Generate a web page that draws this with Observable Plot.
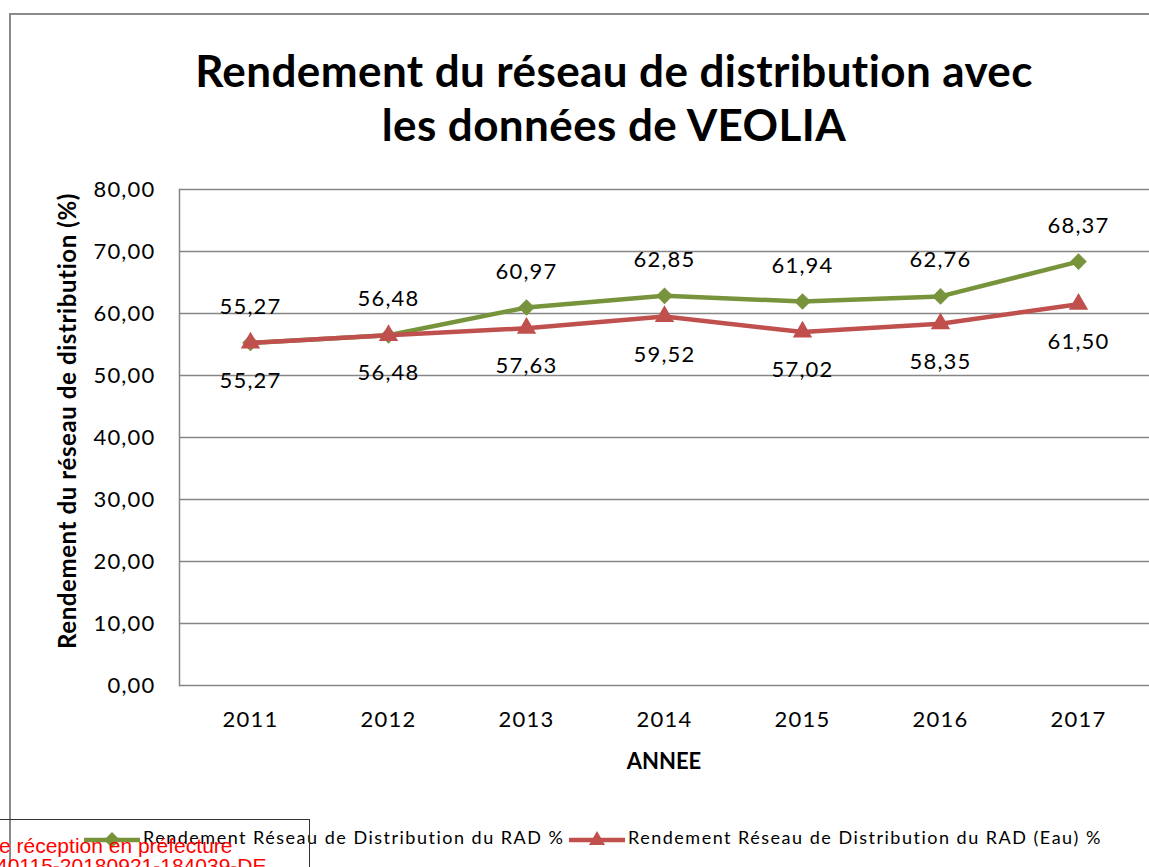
<!DOCTYPE html>
<html><head><meta charset="utf-8">
<script src="https://cdn.jsdelivr.net/npm/d3@7"></script>
<script src="https://cdn.jsdelivr.net/npm/@observablehq/plot@0.6"></script>
<style>
html,body{margin:0;padding:0;background:#fff;overflow:hidden}
#wrap{position:relative;width:1149px;height:867px;overflow:hidden;font-family:Lato,sans-serif;color:#000}
#wrap svg.plot{position:absolute;left:0;top:0}
.border{position:absolute;left:9px;top:13px;width:1200px;height:900px;border:2px solid #8a8a8a;box-sizing:border-box}
.title{position:absolute;left:0;width:1228px;top:43px;text-align:center;font-weight:bold;font-size:44px;line-height:54px;letter-spacing:0.4px}
.ylab{position:absolute;left:66px;top:421px;transform:translate(-50%,-50%) rotate(-90deg);white-space:nowrap;font-weight:bold;font-size:24px;letter-spacing:0.6px}
.xlab{position:absolute;left:664px;top:760px;transform:translate(-50%,-50%);font-weight:bold;font-size:22px}
.leg{position:absolute;top:826px;font-size:18px;white-space:nowrap;letter-spacing:1.5px;line-height:22px}
.stamp{position:absolute;left:-2px;top:819px;width:312px;height:60px;border:1.5px solid #333;box-sizing:border-box}
.stxt{position:absolute;left:0;font-family:"Liberation Sans",Arial,sans-serif;color:#ff0000;font-size:21px;white-space:nowrap;line-height:21px}
</style></head><body><div id="wrap"></div>
<script>
const years = ["2011","2012","2013","2014","2015","2016","2017"];
const rendementRAD = [55.27,56.48,60.97,62.85,61.94,62.76,68.37];
const rendementEau = [55.27,56.48,57.63,59.52,57.02,58.35,61.50];
const seriesNames = ["Rendement Réseau de Distribution du RAD %","Rendement Réseau de Distribution du RAD (Eau) %"];
const seriesColors = ["#77933C","#C0504D"];
const yTicks = [0,10,20,30,40,50,60,70,80];
const titleLines = ["Rendement du réseau de distribution avec","les données de VEOLIA"];
const yLabel = "Rendement du réseau de distribution (%)";
const xLabel = "ANNEE";

const fmt = v => v.toFixed(2).replace(".", ",");
const green = years.map((year,i)=>({year, value: rendementRAD[i]}));
const red = years.map((year,i)=>({year, value: rendementEau[i]}));

const chart = Plot.plot({
  width:1149, height:867,
  marginLeft:179, marginRight:0, marginTop:189, marginBottom:182,
  style:{fontFamily:"Lato, sans-serif", fontSize:"22px", letterSpacing:"1.2px", color:"#000", background:"transparent", overflow:"visible"},
  x:{type:"point", domain:years, padding:0.5, label:null, tickSize:0, tickPadding:26},
  y:{domain:[0,80], ticks:yTicks, tickFormat:fmt, label:null, tickSize:0, tickPadding:24},
  marks:[
    Plot.ruleY(yTicks,{stroke:"#868686", strokeWidth:1.3}),
    Plot.frame({anchor:"left", stroke:"#868686", strokeWidth:1.5}),
    Plot.line(green,{x:"year",y:"value",stroke:seriesColors[0],strokeWidth:4.5}),
    Plot.dot(green,{x:"year",y:"value",symbol:"diamond2",fill:seriesColors[0],stroke:null,r:7.5}),
    Plot.line(red,{x:"year",y:"value",stroke:seriesColors[1],strokeWidth:4.5}),
    Plot.dot(red,{x:"year",y:"value",symbol:"triangle",fill:seriesColors[1],stroke:null,r:7.2}),
    Plot.text(green,{x:"year",y:"value",text:d=>fmt(d.value),dy:-36,fontSize:22}),
    Plot.text(red,{x:"year",y:"value",text:d=>fmt(d.value),dy:38,fontSize:22})
  ]
});
chart.classList.add("plot");

const wrap = document.getElementById("wrap");
wrap.innerHTML = `
<div class="border"></div>
<div class="title">${titleLines.join("<br>")}</div>
<div class="ylab">${yLabel}</div>
<div class="xlab">${xLabel}</div>`;
wrap.appendChild(chart);

function legendItem(x, color, sym, name){
  const d = document.createElement("div");
  d.className = "leg";
  d.style.left = x + "px";
  const symPath = sym === "diamond" ? `<path d="M29,4 L37,12 L29,20 L21,12 Z" fill="${color}"/>` : `<path d="M29,3 L37,17 L21,17 Z" fill="${color}"/>`;
  d.innerHTML = `<svg width="58" height="22" style="vertical-align:middle;overflow:visible"><line x1="1" x2="57" y1="12" y2="12" stroke="${color}" stroke-width="4.5"/>${symPath}</svg><span style="margin-left:2px">${name}</span>`;
  wrap.appendChild(d);
}
legendItem(83, seriesColors[0], "diamond", seriesNames[0]);
legendItem(568, seriesColors[1], "triangle", seriesNames[1]);

const stamp = document.createElement("div");
stamp.className = "stamp";
wrap.appendChild(stamp);
const s1 = document.createElement("div"); s1.className="stxt"; s1.style.top="835px"; s1.style.left="-1px"; s1.textContent="e réception en préfecture"; wrap.appendChild(s1);
const s2 = document.createElement("div"); s2.className="stxt"; s2.style.top="855px"; s2.style.left="-4px"; s2.textContent="40115-20180921-184039-DE"; wrap.appendChild(s2);
</script></body></html>
